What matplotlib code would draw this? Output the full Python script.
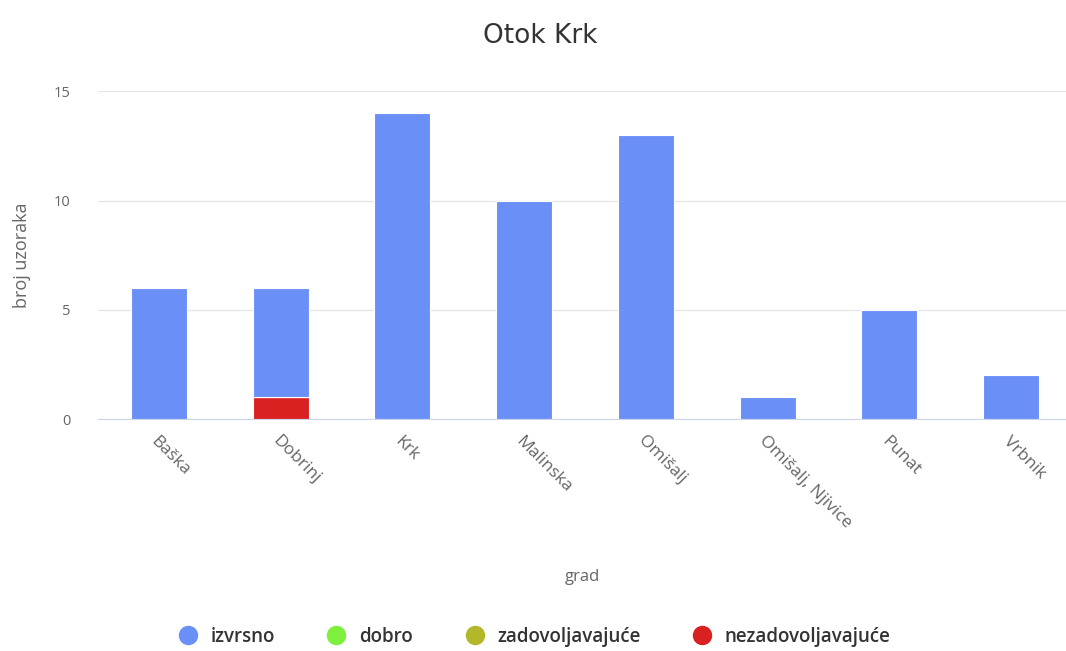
import numpy as np
import matplotlib.pyplot as plt
from matplotlib.lines import Line2D

plt.rcParams['font.family'] = ['Open Sans', 'DejaVu Sans']

# Podaci
gradovi = ['Baška', 'Dobrinj', 'Krk', 'Malinska', 'Omišalj',
           'Omišalj, Njivice', 'Punat', 'Vrbnik']
izvrsno = [6, 5, 14, 10, 13, 1, 5, 2]
dobro = [0, 0, 0, 0, 0, 0, 0, 0]
zadovoljavajuce = [0, 0, 0, 0, 0, 0, 0, 0]
nezadovoljavajuce = [0, 1, 0, 0, 0, 0, 0, 0]

serije = ['izvrsno', 'dobro', 'zadovoljavajuće', 'nezadovoljavajuće']
boje = ['#6a8ff7', '#7cf03c', '#b3b82a', '#d92121']

fig = plt.figure(figsize=(10.66, 6.51), dpi=100)
ax = fig.add_axes([0.092, 0.356, 0.908, 0.504])

x = np.arange(len(gradovi))
sirina = 0.46

# stog: zadnja serija na dnu
dno = np.zeros(len(gradovi))
for vrijednosti, boja in zip([nezadovoljavajuce, zadovoljavajuce, dobro, izvrsno], boje[::-1]):
    v = np.array(vrijednosti, dtype=float)
    ax.bar(x, v, sirina, bottom=dno, color=boja, edgecolor='white', linewidth=0.8, zorder=3)
    dno += v

ax.set_xlim(-0.5, 7.45)
ax.set_ylim(0, 15)
ax.set_yticks([0, 5, 10, 15])
ax.grid(axis='y', color='#e6e6e6', linewidth=1, zorder=0)
for s in ['top', 'right', 'left']:
    ax.spines[s].set_visible(False)
ax.spines['bottom'].set_color('#ccd6eb')
ax.tick_params(axis='y', length=0, pad=20, labelsize=10.5, labelcolor='#666666')
ax.tick_params(axis='x', length=0, pad=10, labelsize=12.5, labelcolor='#666666')
ax.set_xticks(x)
ax.set_xticklabels(gradovi, rotation=-45, ha='left', va='top', rotation_mode='anchor')

ax.set_ylabel('broj uzoraka', fontsize=13, color='#666666', labelpad=16)
ax.set_xlabel('grad', fontsize=12, color='#666666', labelpad=27)
fig.text(0.507, 0.945, 'Otok Krk', ha='center', va='center', fontsize=19,
         color='#333333', family=['DejaVu Sans'])

oznake = [Line2D([0], [0], marker='o', linestyle='', markersize=13,
                 markerfacecolor=b, markeredgecolor=b) for b in boje]
fig.legend(oznake, serije, loc='center', bbox_to_anchor=(0.497, 0.022), ncol=4,
           frameon=False, handletextpad=0.2, columnspacing=2.3,
           prop={'weight': 'semibold', 'size': 13.5})
for t in fig.legends[0].get_texts():
    t.set_color('#333333')

fig.savefig('out.png', dpi=100)
